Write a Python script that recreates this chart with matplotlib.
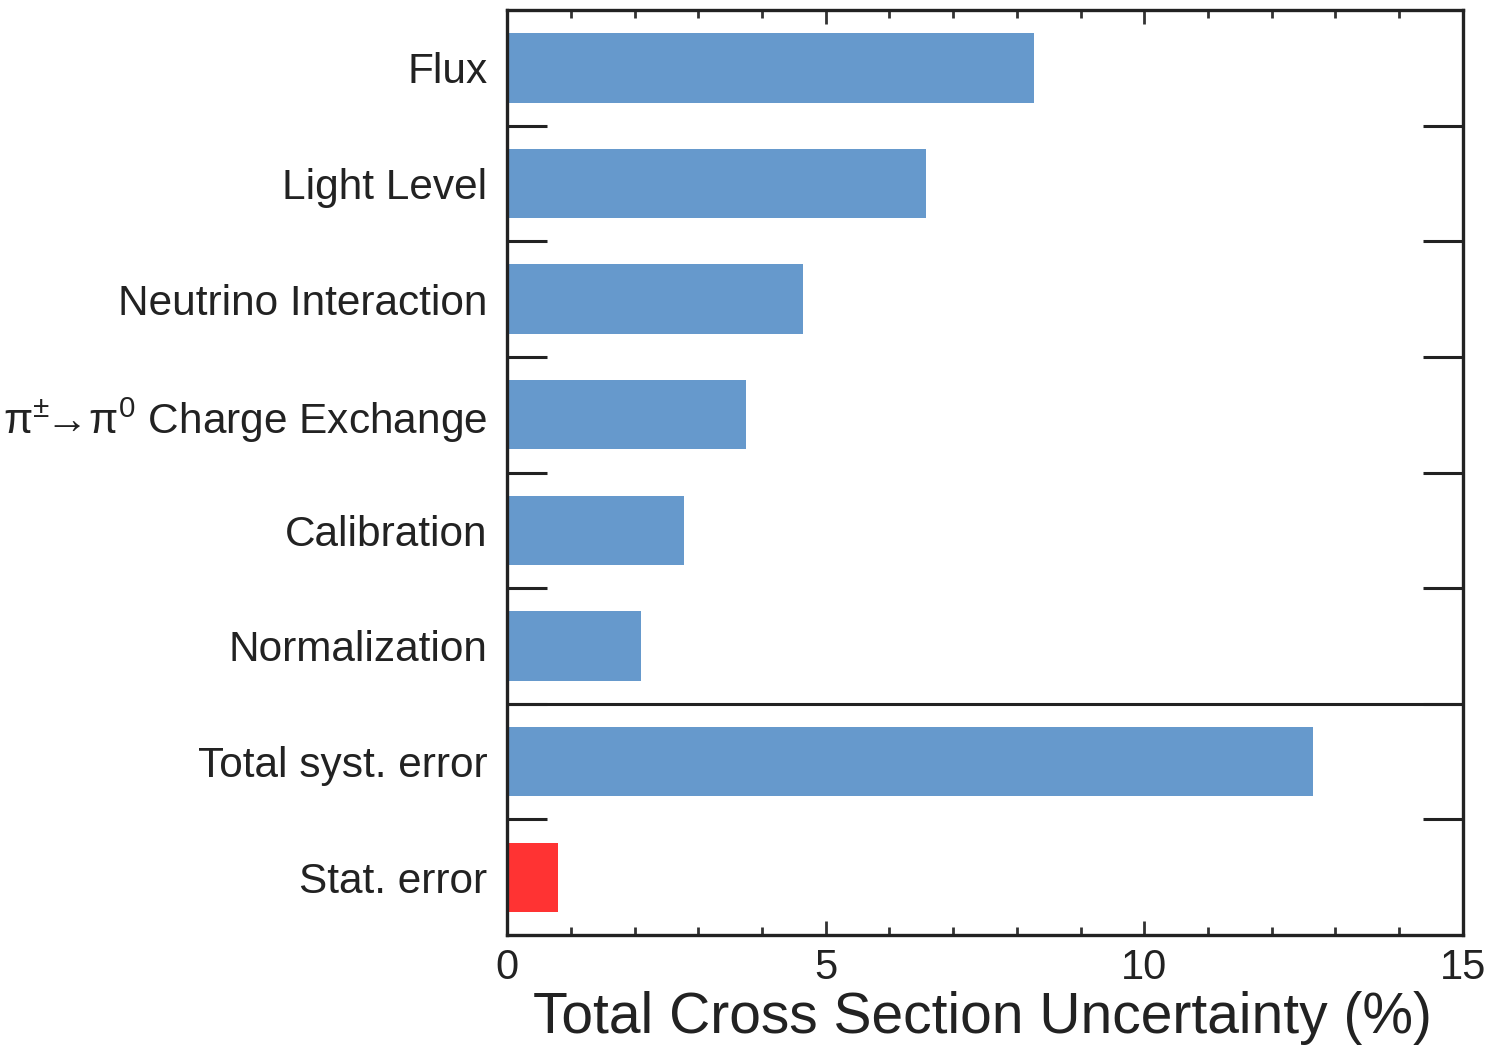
import numpy as np
import matplotlib
matplotlib.use("Agg")
import matplotlib.pyplot as plt
from matplotlib.ticker import MultipleLocator

plt.rcParams['font.family'] = ['Liberation Sans', 'DejaVu Sans']
plt.rcParams['mathtext.fontset'] = 'custom'
plt.rcParams['mathtext.rm'] = 'Liberation Sans'
plt.rcParams['mathtext.it'] = 'Liberation Sans'
plt.rcParams['mathtext.fallback'] = 'cm'

# uncertainty sources, top to bottom
categories = ["Flux", "Light Level", "Neutrino Interaction",
              r"π$^{\pm}\!\!\rightarrow\!$π$^{0}$ Charge Exchange",
              "Calibration", "Normalization", "Total syst. error", "Stat. error"]
uncert = [8.27, 6.57, 4.65, 3.75, 2.77, 2.10, 12.65, 0.80]
colors = ["#6699cc"] * 7 + ["#ff3333"]

fig = plt.figure(figsize=(14.94, 10.46), dpi=100)
ax = fig.add_axes([0.3394, 0.1061, 0.9792 - 0.3394, 0.9904 - 0.1061])

n = len(categories)
ypos = np.arange(n)
ax.barh(ypos, uncert, height=0.6, color=colors, zorder=2)

ax.set_xlim(0, 15)
ax.set_ylim(n - 0.5, -0.5)

# separator between individual systematics and the totals
ax.axhline(5.5, color="#222222", lw=2.2, zorder=3)

# category labels without marks; boundary ticks on both sides
ax.set_yticks(ypos)
ax.set_yticklabels(categories, fontsize=30.5, color="#222222")
ax.tick_params(axis="y", which="major", length=0, pad=14)
ax.set_yticks(np.arange(0.5, n - 1, 1.0), minor=True)
ax.tick_params(axis="y", which="minor", length=29, width=2.2, direction="in",
               left=True, right=True, color="#222222")

ax.xaxis.set_major_locator(MultipleLocator(5))
ax.xaxis.set_minor_locator(MultipleLocator(1))
ax.tick_params(axis="x", which="major", length=10, width=2, direction="in",
               top=True, bottom=True, labelsize=30, pad=9, color="#333333",
               labelcolor="#222222")
ax.tick_params(axis="x", which="minor", length=5.5, width=2, direction="in",
               top=True, bottom=True, color="#333333")

for s in ax.spines.values():
    s.set_linewidth(2.4)
    s.set_color("#222222")

ax.set_xlabel("Total Cross Section Uncertainty (%)", fontsize=41,
              color="#222222")
ax.xaxis.set_label_coords(0.968, -0.06, transform=ax.transAxes)
ax.xaxis.label.set_horizontalalignment("right")

fig.savefig("out.png", dpi=100)
